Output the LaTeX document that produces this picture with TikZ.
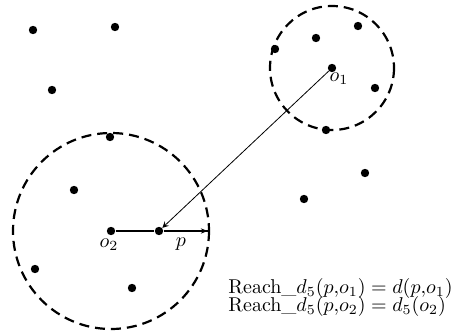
\documentclass[tikz,border=0pt]{standalone}
\usetikzlibrary{arrows.meta}
\begin{document}
\begin{tikzpicture}[
  x=0.5pt, y=-0.5pt,
  pnode/.style={circle, fill, inner sep=0pt, minimum size=4.2pt},
  rcircle/.style={draw, line width=1.1pt, dash pattern=on 5pt off 3pt},
  >=stealth
]
  \useasboundingbox (0,0) rectangle (456,332);
  % points
  \node[pnode] (a) at (33,30) {};
  \node[pnode] (b) at (115,27) {};
  \node[pnode] (c) at (52,90) {};
  \node[pnode] (d) at (110,137) {};
  \node[pnode] (e) at (74,190) {};
  \node[pnode] (o2) at (111,231) {};
  \node[pnode] (p) at (159,231) {};
  \node[pnode] (f) at (35,269) {};
  \node[pnode] (g) at (132,288) {};
  \node[pnode] (h) at (275,49) {};
  \node[pnode] (i) at (316,38) {};
  \node[pnode] (j) at (358,26) {};
  \node[pnode] (o1) at (332,68) {};
  \node[pnode] (k) at (375,88) {};
  \node[pnode] (l) at (326,130) {};
  \node[pnode] (m) at (365,173) {};
  \node[pnode] (n) at (304,199) {};
  \coordinate (r) at (209,231);

  % neighbourhoods
  \draw[rcircle] (o1) circle (62);
  \draw[rcircle] (o2) circle (98);

  % distances
  \draw[->, line width=0.4pt] (o1) -- (p);
  \draw[line width=0.6pt] (o2) -- (p);
  \draw[-{Stealth[length=3.5pt]Bar[width=5pt]}, line width=0.6pt] (p) -- (r);

  % labels
  \node (lo1) at (339,79) {$o_1$};
  \node (lo2) at (109,245) {$o_2$};
  \node (lp) at (181,244) {$p$};
  \node[anchor=base west, inner sep=0pt] (t1) at (228,293) {Reach\_$d_5(p{,}o_1)=d(p{,}o_1)$};
  \node[anchor=base west, inner sep=0pt] (t2) at (228,311) {Reach\_$d_5(p{,}o_2)=d_5(o_2)$};
\end{tikzpicture}
\end{document}
